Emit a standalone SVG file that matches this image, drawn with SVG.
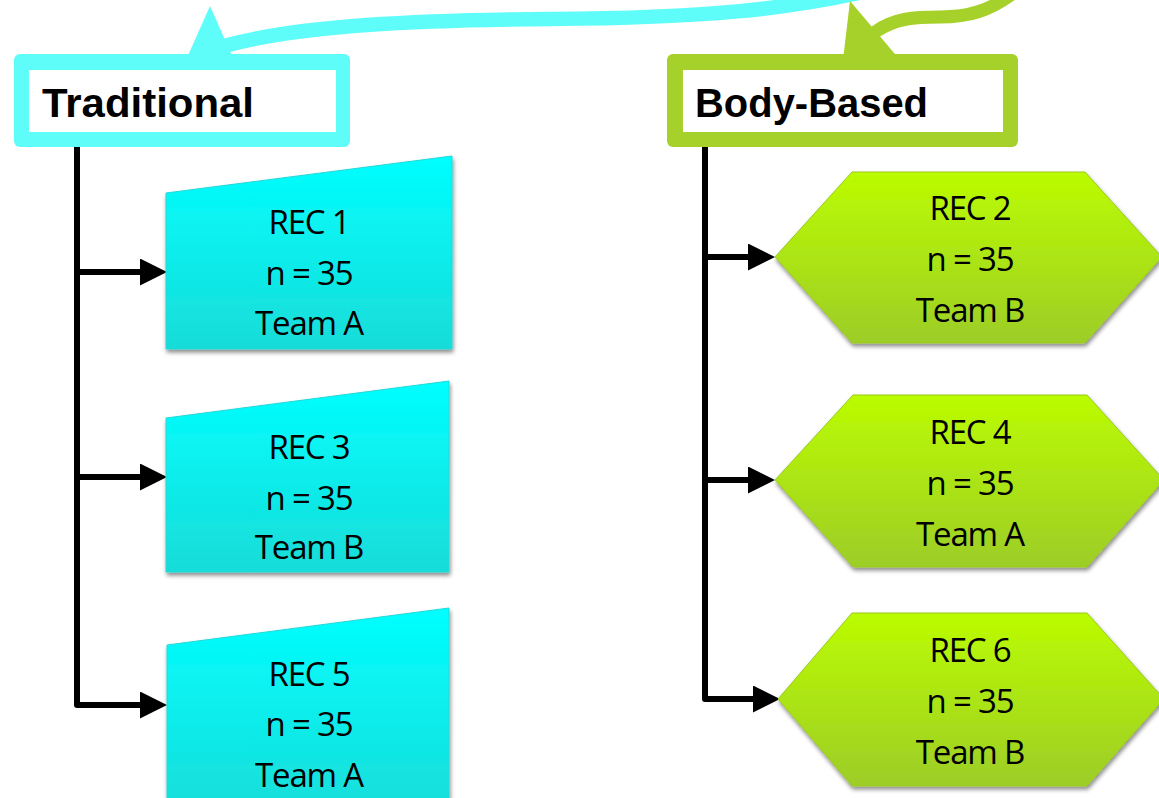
<svg xmlns="http://www.w3.org/2000/svg" width="1159" height="798" viewBox="0 0 1159 798">
<style>
.title{font-family:"Liberation Sans",Arial,sans-serif;font-weight:bold;font-size:41px;fill:#000}
.lbl{font-family:"Open Sans","Liberation Sans",sans-serif;font-size:33px;fill:#000;text-anchor:middle;letter-spacing:-1.2px}
.conn{fill:none;stroke:#000;stroke-width:6;stroke-linejoin:round}
.cyanShape{fill:url(#gCyan);stroke:#22d8d8;stroke-width:1;filter:url(#sh)}
.greenShape{fill:url(#gGreen);stroke:#9cc822;stroke-width:1;filter:url(#sh)}
</style>
<defs>
<linearGradient id="gCyan" x1="0" y1="0" x2="0" y2="1">
<stop offset="0" stop-color="#00ffff"/><stop offset="1" stop-color="#18dcd8"/>
</linearGradient>
<linearGradient id="gGreen" x1="0" y1="0" x2="0" y2="1">
<stop offset="0" stop-color="#bbfc00"/><stop offset="1" stop-color="#9ccd28"/>
</linearGradient>
<filter id="sh" x="-10%" y="-10%" width="120%" height="125%">
<feDropShadow dx="1" dy="3" stdDeviation="2" flood-color="#000" flood-opacity="0.45"/>
</filter>
<marker id="ah" markerUnits="userSpaceOnUse" markerWidth="28" markerHeight="28" refX="0" refY="13.5" orient="auto">
<path d="M0,0 L27,13.5 L0,27 z" fill="#000"/>
</marker>
</defs>

<g id="callouts">
<path d="M224 46 C300 25 420 20 550 19 C700 18 790 10 880 -12" fill="none" stroke="#5ffdf9" stroke-width="14.5"/>
<polygon points="186,60 210,6 234,60" fill="#5ffdf9"/>
<path d="M875 32 C895 18 915 17 940 17 C970 17 990 10 1012 -6" fill="none" stroke="#a6d02a" stroke-width="13"/>
<polygon points="843,60 850,1 900,60" fill="#a6d02a"/>
</g>

<g id="traditional">
<rect x="14" y="54" width="336" height="93" rx="6" fill="#5ffdf9"/>
<rect x="29" y="70" width="307" height="62" fill="#fff"/>
<text class="title" x="42" y="117" textLength="212" lengthAdjust="spacingAndGlyphs">Traditional</text>
</g>

<g id="body-based">
<rect x="667" y="54" width="351" height="93" rx="6" fill="#a6d02a"/>
<rect x="683" y="70" width="320" height="62" fill="#fff"/>
<text class="title" x="695" y="117" textLength="233" lengthAdjust="spacingAndGlyphs">Body-Based</text>
</g>

<g id="connectors">
<path class="conn" d="M77,147 V705 H140" marker-end="url(#ah)"/>
<path class="conn" d="M77,272 H140" marker-end="url(#ah)"/>
<path class="conn" d="M77,477 H140" marker-end="url(#ah)"/>
<path class="conn" d="M705,147 V699 H753" marker-end="url(#ah)"/>
<path class="conn" d="M705,257 H748" marker-end="url(#ah)"/>
<path class="conn" d="M705,480 H748" marker-end="url(#ah)"/>
</g>

<g id="rec1">
<polygon class="cyanShape" points="166,193 452,156 452,349 166,349"/>
<text class="lbl" x="309" y="234">REC 1</text>
<text class="lbl" x="309" y="285">n = 35</text>
<text class="lbl" x="309" y="335">Team A</text>
</g>
<g id="rec3">
<polygon class="cyanShape" points="166,418 449,381 449,572 166,572"/>
<text class="lbl" x="309" y="459">REC 3</text>
<text class="lbl" x="309" y="510">n = 35</text>
<text class="lbl" x="309" y="559">Team B</text>
</g>
<g id="rec5">
<polygon class="cyanShape" points="167,645 449,608 449,820 167,820"/>
<text class="lbl" x="309" y="686">REC 5</text>
<text class="lbl" x="309" y="736">n = 35</text>
<text class="lbl" x="309" y="787">Team A</text>
</g>

<g id="rec2">
<polygon class="greenShape" points="775,257 852,172 1085,172 1162,257 1085,343 852,343"/>
<text class="lbl" x="970" y="220">REC 2</text>
<text class="lbl" x="970" y="271">n = 35</text>
<text class="lbl" x="970" y="322">Team B</text>
</g>
<g id="rec4">
<polygon class="greenShape" points="775,480 853,395 1087,395 1164,480 1087,567 853,567"/>
<text class="lbl" x="970" y="444">REC 4</text>
<text class="lbl" x="970" y="495">n = 35</text>
<text class="lbl" x="970" y="546">Team A</text>
</g>
<g id="rec6">
<polygon class="greenShape" points="778,699 852,613 1087,613 1164,699 1087,786 852,786"/>
<text class="lbl" x="970" y="662">REC 6</text>
<text class="lbl" x="970" y="713">n = 35</text>
<text class="lbl" x="970" y="764">Team B</text>
</g>
</svg>
